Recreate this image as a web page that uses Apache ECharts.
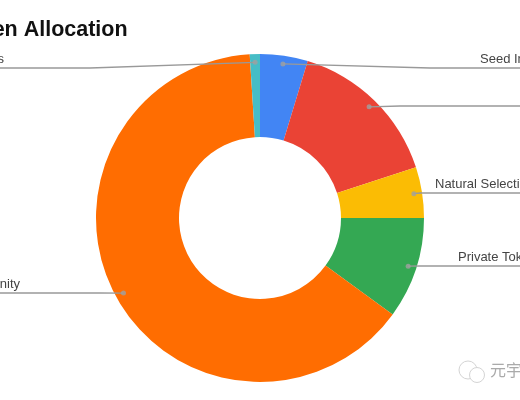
<!DOCTYPE html>
<html>
<head>
<meta charset="utf-8">
<style>
  html, body { margin: 0; padding: 0; background: #fff; }
  #chart { width: 520px; height: 400px; overflow: hidden; }
</style>
<script src="https://cdn.jsdelivr.net/npm/echarts@6/dist/echarts.min.js"></script>
</head>
<body>
<div id="chart"></div>
<script>
// values read clockwise from 12 o'clock
const categories = ['Seed Investors', '', 'Natural Selection', 'Private Token', 'Community', 'Advisors']
const shares = [4.7, 15.3, 5, 10, 64, 1]
const colors = ['#4285f4', '#ea4335', '#fbbc04', '#34a853', '#ff6d01', '#46bdc6']

// leader lines: where each one runs and where its text sits
const lineY = [68, 106, 193, 266, 293, 68]
const bendX = [430, 400, 420, 420, 100, 90]
const lineEndX = [560, 560, 560, 560, -40, -40]
const labelX = [480, 530, 435, 458, 20, 4]

const CENTER = [260, 218]
const RADIUS = 164
const INNER_RADIUS = 81
const DOT_RATIO = 0.95

// mid angle of each slice, in share units
let running = 0
const midShares = shares.map(v => {
  const mid = running + v / 2
  running += v
  return mid
})

function dotPoint(i) {
  const rad = midShares[i] / 100 * Math.PI * 2
  return [
    CENTER[0] + Math.sin(rad) * RADIUS * DOT_RATIO,
    CENTER[1] - Math.cos(rad) * RADIUS * DOT_RATIO,
  ]
}

const chart = echarts.init(document.getElementById('chart'))

chart.setOption({
  backgroundColor: '#fff',
  animation: false,
  title: {
    text: 'Token Allocation',
    left: -49,
    top: 14,
    textStyle: { fontFamily: "'Liberation Sans', Arial, sans-serif", fontSize: 21.5, fontWeight: 'bold', color: '#111' },
  },
  polar: { center: CENTER, radius: RADIUS },
  angleAxis: { type: 'value', min: 0, max: 100, startAngle: 90, show: false },
  radiusAxis: { type: 'value', min: 0, max: 1, show: false },
  series: [
    {
      type: 'pie',
      z: 2,
      center: CENTER,
      radius: [INNER_RADIUS, RADIUS],
      startAngle: 90,
      silent: true,
      data: categories.map((name, i) => ({ name: name, value: shares[i], itemStyle: { color: colors[i] } })),
      label: { show: false },
      labelLine: { show: false },
    },
    // same slices, unfilled, so the leader lines paint on top of the coloured ring
    {
      type: 'pie',
      z: 3,
      center: CENTER,
      radius: [INNER_RADIUS, RADIUS],
      startAngle: 90,
      silent: true,
      avoidLabelOverlap: false,
      data: categories.map((name, i) => ({ name: name, value: shares[i] })),
      itemStyle: { color: 'rgba(0,0,0,0)' },
      label: {
        show: true,
        position: 'outside',
        overflow: 'none',
        fontFamily: "'Liberation Sans', Arial, sans-serif",
        fontSize: 13,
        color: '#444',
      },
      labelLine: { show: true, lineStyle: { color: '#999', width: 1.3 } },
      labelLayout: params => {
        const i = params.dataIndex
        return {
          x: labelX[i],
          y: lineY[i] - 2,
          align: lineEndX[i] < 0 ? 'right' : 'left',
          verticalAlign: 'bottom',
          labelLinePoints: [dotPoint(i), [bendX[i], lineY[i]], [lineEndX[i], lineY[i]]],
        }
      },
    },
    {
      type: 'scatter',
      coordinateSystem: 'polar',
      silent: true,
      symbolSize: 5,
      itemStyle: { color: '#a0a0a0' },
      data: midShares.map(m => [DOT_RATIO, m]),
      z: 5,
    },
  ],
  graphic: [
    // faint wechat-style mark, bottom right
    { type: 'circle', shape: { cx: 468, cy: 370, r: 9 }, style: { fill: '#fff', stroke: '#d4d4d4', lineWidth: 1 } },
    { type: 'circle', shape: { cx: 477, cy: 375, r: 7.5 }, style: { fill: '#fff', stroke: '#d4d4d4', lineWidth: 1 } },
    {
      type: 'text',
      x: 490,
      y: 362,
      style: { text: '元宇宙', fontFamily: "'Noto Sans CJK SC', sans-serif", fontSize: 16, fill: '#aaa' },
    },
  ],
})
</script>
</body>
</html>
